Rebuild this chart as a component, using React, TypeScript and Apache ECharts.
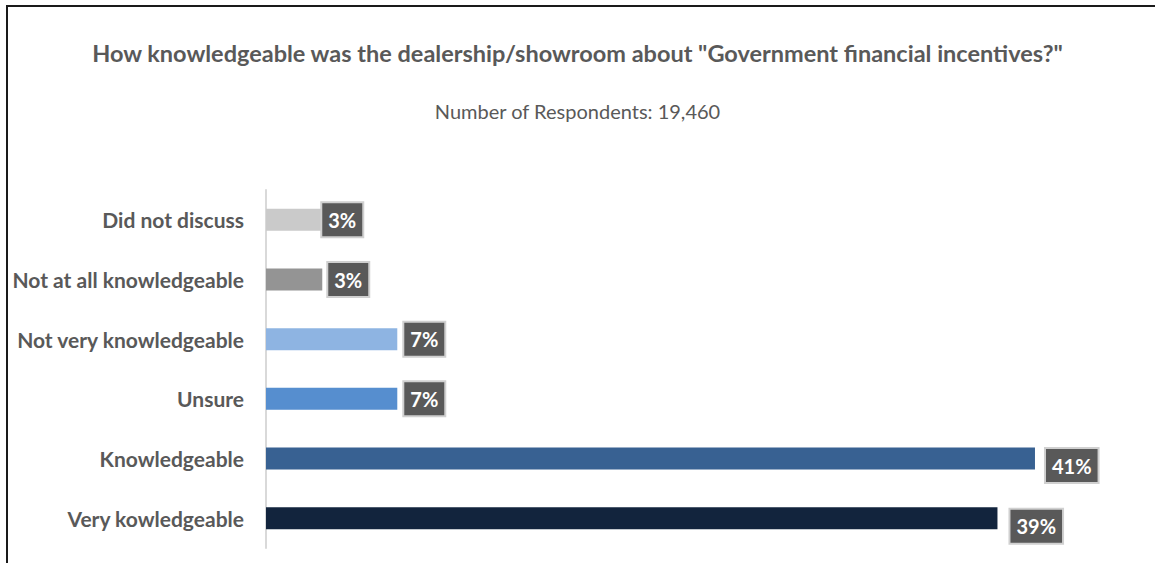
import React, { useEffect, useRef } from "react";
import * as echarts from "echarts";

const categories = [
  "Did not discuss",
  "Not at all knowledgeable",
  "Not very knowledgeable",
  "Unsure",
  "Knowledgeable",
  "Very kowledgeable",
];
const values = [3, 3, 7, 7, 41, 39];
const barColors = ["#cacaca", "#949494", "#8eb4e2", "#568ecf", "#386192", "#12243d"];
// label placement tweaks (style only): [distance, vertical offset]
const labelShift: [number, number][] = [[0, 0], [6, 0], [7, 0], [7, 0], [11, 7], [13, 8]];
const titleText = 'How knowledgeable was the dealership/showroom about "Government financial incentives?"';
const subtitleText = "Number of Respondents: 19,460";

const FONT = "Lato, 'Open Sans', sans-serif";

export default function App() {
  const ref = useRef<HTMLDivElement>(null);
  useEffect(() => {
    if (!ref.current) return;
    const chart = echarts.init(ref.current, null, { renderer: "svg" });
    chart.setOption({
      animation: false,
      backgroundColor: "#ffffff",
      textStyle: { fontFamily: FONT },
      title: [
        {
          text: titleText,
          left: "center",
          top: 36,
          textStyle: { fontFamily: FONT, fontSize: 23.5, fontWeight: "bold", color: "#595959" },
        },
        {
          text: subtitleText,
          left: "center",
          top: 96,
          textStyle: { fontFamily: FONT, fontSize: 20, fontWeight: "normal", color: "#595959" },
        },
      ],
      grid: { left: 266, top: 190, height: 358, right: 45, containLabel: false },
      xAxis: {
        type: "value",
        min: 0,
        max: 45,
        show: false,
      },
      yAxis: {
        type: "category",
        data: categories,
        inverse: true,
        axisLine: { show: true, lineStyle: { color: "#d9d9d9", width: 2 } },
        axisTick: { show: false },
        axisLabel: {
          fontFamily: FONT,
          fontSize: 21,
          fontWeight: "bold",
          color: "#595959",
          margin: 22,
        },
      },
      series: [
        {
          type: "bar",
          barWidth: 22,
          data: values.map((v, i) => ({
            value: v,
            itemStyle: { color: barColors[i] },
            label: { distance: labelShift[i][0], offset: [0, labelShift[i][1]] },
          })),
          label: {
            show: true,
            position: "right",
            formatter: "{c}%",
            fontFamily: FONT,
            fontSize: 20,
            fontWeight: "bold",
            color: "#ffffff",
            backgroundColor: "#595959",
            borderColor: "#d0d0d0",
            borderWidth: 2,
            padding: [7, 6, 6, 6],
          },
        },
      ],
      graphic: [
        {
          type: "line",
          shape: { x1: 6, y1: 6, x2: 1155, y2: 6 },
          style: { stroke: "#1a1a1a", lineWidth: 2 },
        },
        {
          type: "line",
          shape: { x1: 7, y1: 5, x2: 7, y2: 563 },
          style: { stroke: "#1a1a1a", lineWidth: 2 },
        },
      ],
    });
    return () => chart.dispose();
  }, []);
  return (
    <div
      ref={ref}
      style={{ position: "absolute", left: 0, top: 0, width: 1155, height: 563 }}
    />
  );
}
